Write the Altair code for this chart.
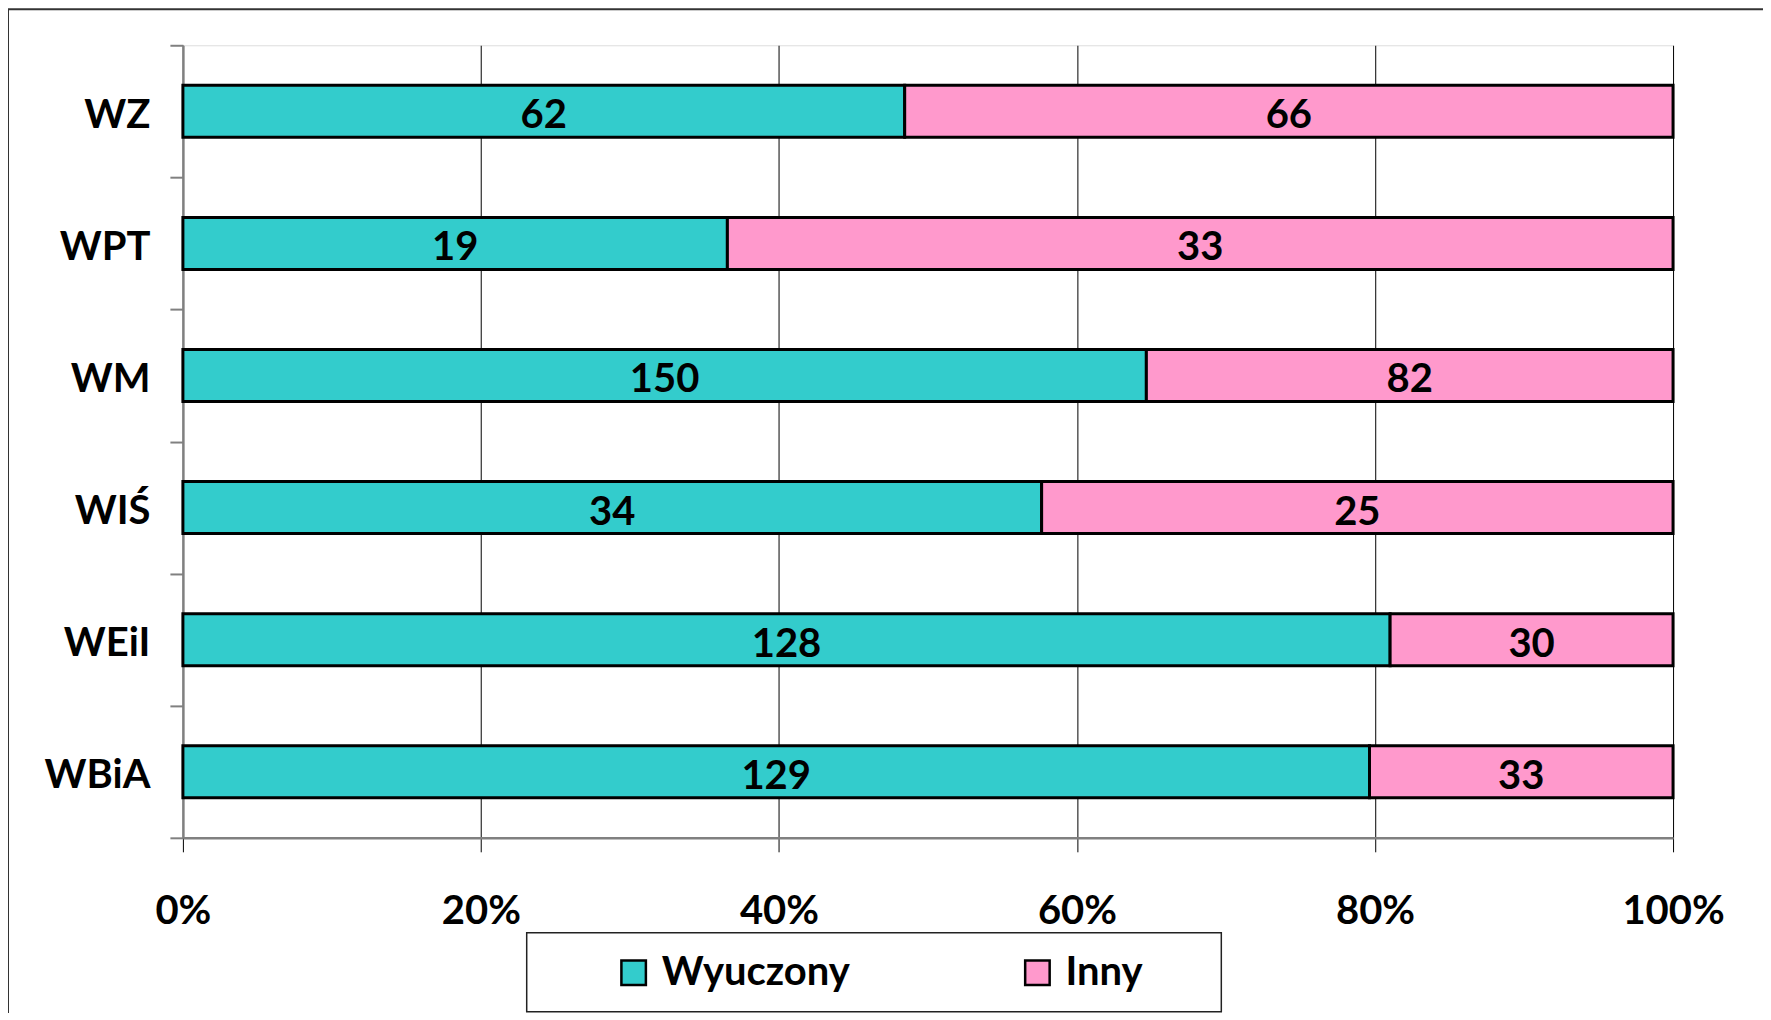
import altair as alt
import pandas as pd

categories = ["WZ", "WPT", "WM", "WIŚ", "WEiI", "WBiA"]
wyuczony = [62, 19, 150, 34, 128, 129]
inny = [66, 33, 82, 25, 30, 33]
series = ["Wyuczony", "Inny"]
colors = ["#33CCCC", "#FF99CC"]
tick_values = [0, 0.2, 0.4, 0.6, 0.8, 1.0]

rows = []
for i, c in enumerate(categories):
    rows.append({"cat": c, "series": series[0], "order": 0, "value": wyuczony[i]})
    rows.append({"cat": c, "series": series[1], "order": 1, "value": inny[i]})
df = pd.DataFrame(rows)

FONT = "Lato"
W, H = 1491, 793

base = alt.Chart(df).transform_joinaggregate(
    total="sum(value)", groupby=["cat"]
).transform_calculate(
    frac="datum.value / datum.total"
).transform_window(
    cum="sum(frac)", sort=[alt.SortField("order")], groupby=["cat"], frame=[None, 0]
).transform_calculate(
    start="datum.cum - datum.frac", mid="datum.cum - datum.frac / 2"
)

yscale = alt.Scale(paddingInner=0, paddingOuter=0)

yenc = alt.Y(
    "cat:N", sort=categories, title=None, scale=yscale,
    axis=alt.Axis(
        labelFontSize=40, labelFontWeight="bold", labelFont=FONT, labelColor="black",
        labelPadding=20, labelOffset=4, tickSize=13, tickColor="#808080", tickWidth=2,
        domainColor="#808080", domainWidth=2.5, tickBand="extent", grid=False,
    ),
)

xscale = alt.Scale(domain=[0, 1], nice=False, zero=True)

bars = base.mark_bar(stroke="black", strokeWidth=3, size=52).encode(
    x=alt.X(
        "start:Q", scale=xscale, title=None,
        axis=alt.Axis(
            values=tick_values, format=".0%", labelFontSize=40, labelFontWeight="bold",
            labelFont=FONT, labelColor="black", labelPadding=40, tickSize=14,
            tickColor="black", tickWidth=1, domainColor="#808080", domainWidth=2.5,
            grid=True, gridColor="black", gridWidth=1, labelFlush=False,
            labelOverlap=False,
        ),
    ),
    x2="cum:Q",
    y=yenc,
    color=alt.Color(
        "series:N", scale=alt.Scale(domain=series, range=colors), sort=series,
        legend=alt.Legend(
            title=None, orient="none", legendX=431, legendY=908, direction="horizontal",
            columns=2, columnPadding=167, symbolType="square", symbolSize=600,
            symbolStrokeColor="black", symbolStrokeWidth=2.5, labelFontSize=40,
            labelFontWeight="bold", labelFont=FONT, labelColor="black", labelOffset=8,
            labelLimit=400, padding=0,
        ),
    ),
    order=alt.Order("order:Q"),
)

labels = base.mark_text(
    font=FONT, fontSize=40, fontWeight="bold", color="black", baseline="middle", dy=5
).encode(
    x=alt.X("mid:Q", scale=xscale),
    y=alt.Y("cat:N", sort=categories, scale=yscale),
    text="value:Q",
)

box_df = pd.DataFrame({"k": [0]})
legend_box = alt.Chart(box_df).mark_rect(fill="white", stroke="#222222", strokeWidth=1.5).encode(
    x=alt.value(344), x2=alt.value(1039), y=alt.value(888), y2=alt.value(967)
)
border_left = alt.Chart(box_df).mark_rule(color="#333333", strokeWidth=2).encode(
    x=alt.value(-175), y=alt.value(-36), y2=alt.value(1100)
)
border_top = alt.Chart(box_df).mark_rule(color="#333333", strokeWidth=2).encode(
    x=alt.value(-175), x2=alt.value(1700), y=alt.value(-36)
)

chart = alt.layer(legend_box, bars, labels, border_left, border_top).properties(
    width=W, height=H,
    autosize=alt.AutoSizeParams(type="none"),
    padding={"left": 175, "top": 37, "right": 90, "bottom": 175},
).configure_view(
    stroke="#8C8C8C", strokeWidth=3
).configure(
    font=FONT, background="white"
)

chart.save("out.html", embed_options={"renderer": "svg", "actions": False})
